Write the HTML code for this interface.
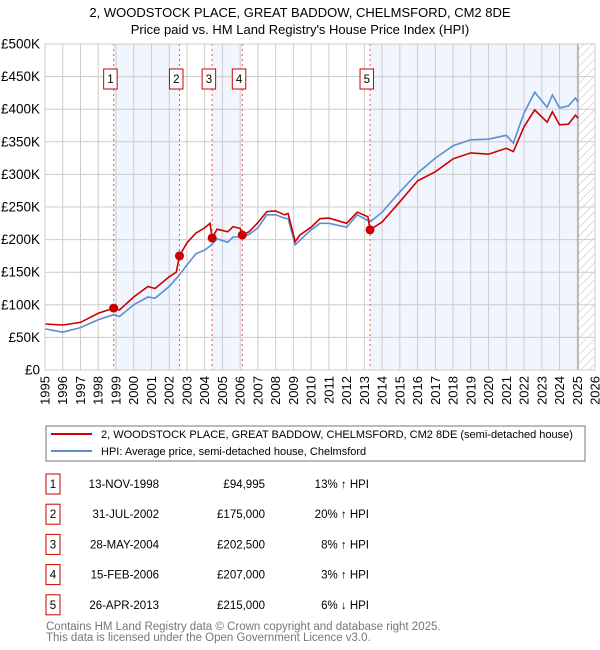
<!DOCTYPE html>
<html><head><meta charset="utf-8"><style>
body{margin:0;background:#fff;font-family:"Liberation Sans","DejaVu Sans",sans-serif;}
svg{display:block}
</style></head><body>
<svg width="600" height="650" xmlns="http://www.w3.org/2000/svg" id="chart">
<defs>
<pattern id="hatch" patternUnits="userSpaceOnUse" width="6" height="6" patternTransform="rotate(45)">
<line x1="0" y1="0" x2="0" y2="6" stroke="#bbb" stroke-width="1"/>
</pattern>
</defs>
<text x="300" y="17" text-anchor="middle" font-size="13" fill="#000">2, WOODSTOCK PLACE, GREAT BADDOW, CHELMSFORD, CM2 8DE</text>
<text x="300" y="34" text-anchor="middle" font-size="13" fill="#000">Price paid vs. HM Land Registry's House Price Index (HPI)</text>
<g id="plot"></g>
<g>
<rect x="46" y="426" width="539" height="35" fill="#fff" stroke="#777" stroke-width="1"/>
<line x1="51" y1="434" x2="92" y2="434" stroke="#cc0000" stroke-width="2"/>
<text x="101" y="438" font-size="11">2, WOODSTOCK PLACE, GREAT BADDOW, CHELMSFORD, CM2 8DE (semi-detached house)</text>
<line x1="51" y1="451" x2="92" y2="451" stroke="#5b8fd0" stroke-width="2"/>
<text x="101" y="455" font-size="11">HPI: Average price, semi-detached house, Chelmsford</text>
</g>
<g id="table" font-size="11.5"></g>
<text x="46" y="630" font-size="11.5" fill="#777">Contains HM Land Registry data © Crown copyright and database right 2025.</text>
<text x="46" y="641" font-size="11.5" fill="#777">This data is licensed under the Open Government Licence v3.0.</text>
</svg>
<script>
const hpiYears=[1995,1996,1997,1998,1998.87,1999.2,2000,2000.8,2001.2,2002,2002.58,2003,2003.5,2004,2004.3,2004.7,2005.3,2005.6,2006.12,2006.5,2007,2007.5,2008,2008.5,2008.7,2009.1,2009.37,2010,2010.5,2011,2012,2012.6,2013.2,2013.32,2014,2015,2016,2017,2018,2019,2020,2021,2021.4,2022,2022.6,2023.3,2023.6,2024,2024.5,2024.9,2025.05];
const hpiValues=[63,58,65,77,85,82,100,112,110,128,146,161,178,184,190,201,196,204,204,208,218,238,238,233,232,192,199,215,225,225,219,238,229,227,242,273,302,325,344,353,354,360,348,394,426,403,422,402,405,417,411];
const ppYears=[1995,1996,1997,1998,1998.87,1999.2,2000,2000.8,2001.2,2002,2002.4,2002.58,2003,2003.5,2004,2004.3,2004.42,2004.7,2005.3,2005.6,2006.0,2006.12,2006.5,2007,2007.5,2008,2008.5,2008.7,2009.1,2009.37,2010,2010.5,2011,2012,2012.6,2013.2,2013.32,2014,2015,2016,2017,2018,2019,2020,2021,2021.4,2022,2022.6,2023.3,2023.6,2024,2024.5,2024.9,2025.05];
const ppValues=[70.5,69,73,87,94.995,92,112,128,125,143,150,175,195,210,218,225,202.5,216,212,220,217,207,212,226,243,244,238,240,197,207,219,232,233,225,242,235,215,227,258,290,304,324,333,331,340,335,373,399,380,396,376,377,391,386];
const saleYears=[1998.87,2002.58,2004.42,2006.12,2013.32];
const saleValues=[94.995,175,202.5,207,215];
const saleLabels=["1","2","3","4","5"];
const saleDates=["13-NOV-1998","31-JUL-2002","28-MAY-2004","15-FEB-2006","26-APR-2013"];
const salePrices=["£94,995","£175,000","£202,500","£207,000","£215,000"];
const saleHpi=["13% ↑ HPI","20% ↑ HPI","8% ↑ HPI","3% ↑ HPI","6% ↓ HPI"];
const yTicks=[0,50,100,150,200,250,300,350,400,450,500];
const yTickLabels=["£0","£50K","£100K","£150K","£200K","£250K","£300K","£350K","£400K","£450K","£500K"];
const xTicks=[1995,1996,1997,1998,1999,2000,2001,2002,2003,2004,2005,2006,2007,2008,2009,2010,2011,2012,2013,2014,2015,2016,2017,2018,2019,2020,2021,2022,2023,2024,2025,2026];

const L=45,R=595,T=44,B=370,X0=1995,X1=2026,Ymax=500,dataEnd=2025.05;
const xs=y=>L+(y-X0)/(X1-X0)*(R-L);
const ys=v=>B-v/Ymax*(B-T);
const NS="http://www.w3.org/2000/svg";
const plot=document.getElementById('plot');
function mk(tag,attrs,parent){const e=document.createElementNS(NS,tag);for(const k in attrs)e.setAttribute(k,attrs[k]);(parent||plot).appendChild(e);return e;}

const shadePairs=[[0,1],[2,3]];
shadePairs.forEach(p=>{
  const r=mk('rect',{x:xs(saleYears[p[0]]),y:T,width:xs(saleYears[p[1]])-xs(saleYears[p[0]]),height:B-T,fill:'#eef3fc',opacity:0.8});
  
  
});
const s5=mk('rect',{x:xs(saleYears[4]),y:T,width:xs(dataEnd)-xs(saleYears[4]),height:B-T,fill:'#eef3fc',opacity:0.8});


const h=mk('rect',{x:xs(dataEnd),y:T,width:R-xs(dataEnd),height:B-T,fill:'url(#hatch)'});



xTicks.forEach(t=>{
  const g=mk('line',{x1:xs(t),x2:xs(t),y1:T,y2:B,stroke:'#ccc','stroke-width':1});
  
  
  const tx=mk('text',{x:0,y:0,'font-size':13,'text-anchor':'end',transform:`translate(${xs(t)+4.5},376) rotate(-90)`});
  tx.textContent=t;
  
  
});
yTicks.forEach((t,i)=>{
  const g=mk('line',{x1:L,x2:R,y1:ys(t),y2:ys(t),stroke:'#ccc','stroke-width':1});
  
  
  const tx=mk('text',{x:40,y:ys(t)+4.5,'font-size':13.5,'text-anchor':'end'});
  tx.textContent=yTickLabels[i];
  
  
});
const el=mk('line',{x1:xs(dataEnd),x2:xs(dataEnd),y1:T,y2:B,stroke:'#999','stroke-width':1});



saleYears.forEach((y,i)=>{
  const l=mk('line',{x1:xs(y),x2:xs(y),y1:T,y2:B,stroke:'#ee5555','stroke-width':1,'stroke-dasharray':'2,3'});
  
  
  const b=mk('rect',{x:xs(y)-10,y:69,width:13.5,height:20,fill:'#fff',stroke:'#cc0000','stroke-width':1});
  
  
  const t=mk('text',{x:xs(y)-3.2,y:83,'font-size':11.5,'text-anchor':'middle'});
  t.textContent=saleLabels[i];
  
  
});

const path=(xa,va)=>xa.map((y,i)=>(i?'L':'M')+xs(y).toFixed(1)+','+ys(va[i]).toFixed(1)).join('');
const hp=mk('path',{d:path(hpiYears,hpiValues),fill:'none',stroke:'#5b8fd0','stroke-width':1.6});


const pp=mk('path',{d:path(ppYears,ppValues),fill:'none',stroke:'#cc0000','stroke-width':1.6});


saleYears.forEach((y,i)=>{
  const c=mk('circle',{cx:xs(y),cy:ys(saleValues[i]),r:4.5,fill:'#cc0000'});
  
  
});
const fr=mk('rect',{x:L,y:T,width:R-L,height:B-T,fill:'none',stroke:'#ccc'});



const tbl=document.getElementById('table');
saleLabels.forEach((s,i)=>{
  const cy=483+i*30.2;
  const b=mk('rect',{x:46,y:cy-9,width:14,height:20,fill:'#fff',stroke:'#cc0000'},tbl);
  
  
  const cells=[[s,53,'middle'],[saleDates[i],159,'end'],[salePrices[i],265,'end'],[saleHpi[i],369,'end']];
  const names=['table-row-number','table-sale-date','table-sale-price','table-hpi-diff'];
  cells.forEach((c,j)=>{
    const t=mk('text',{x:c[1],y:cy+5,'text-anchor':c[2]},tbl);
    t.textContent=c[0];
    
    
  });
});
</script>
</body></html>
